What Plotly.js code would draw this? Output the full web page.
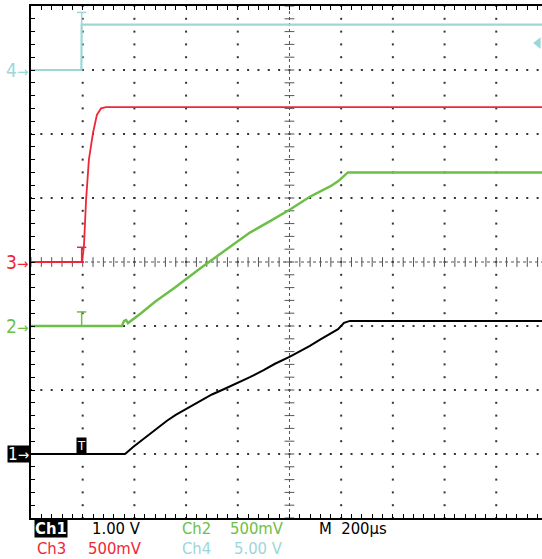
<!DOCTYPE html>
<html>
<head>
<meta charset="utf-8">
<script src="https://cdn.plot.ly/plotly-3.0.1.min.js"></script>
<style>html,body{margin:0;padding:0;background:#fff;}#chart{width:542px;height:559px;}</style>
</head>
<body>
<div id="chart"></div>
<script>
// ---- data (time in microseconds, values in volts) ----
const t4 = [0, 195, 196, 2000];
const v4 = [0, 0, 3.55, 3.55];

const t3 = [0, 197, 201, 205, 213, 224, 240, 255, 271, 290, 2000];
const v3 = [0, 0, 0.06, 0.13, 0.48, 0.80, 1.01, 1.15, 1.20, 1.21, 1.21];

const t2 = [0, 352, 360, 368, 375, 422, 480, 557, 654, 750, 847, 925, 1002, 1079, 1157, 1188, 1203, 1226, 2000];
const v2 = [0, 0, 0.04, 0.047, 0.023, 0.094, 0.19, 0.30, 0.45, 0.59, 0.73, 0.82, 0.91, 1.01, 1.09, 1.13, 1.16, 1.20, 1.20];

const t1 = [0, 364, 395, 430, 460, 495, 526, 560, 596, 654, 700, 750, 800, 847, 900, 944, 1002, 1040, 1079, 1120, 1157, 1188, 1211, 1234, 2000];
const v1 = [0, 0, 0.11, 0.22, 0.31, 0.42, 0.52, 0.61, 0.69, 0.83, 0.93, 1.02, 1.11, 1.20, 1.31, 1.41, 1.52, 1.60, 1.69, 1.79, 1.88, 1.95, 2.05, 2.08, 2.08];

// channel settings: volts/div and ground offset (divisions)
const chNames = ['Ch1', 'Ch2', 'Ch3', 'Ch4'];
const chScale = [1.0, 0.5, 0.5, 5.0];
const chScaleText = ['1.00 V', '500mV', '500mV', '5.00 V'];
const chOffset = [-3, -1, 0, 3];
const chColor = ['#000000', '#6cbf47', '#ee2636', '#9cd7d8'];
const timebaseText = 'M  200\u00b5s';
const triggerTime = 196;
const ch4TriggerLevel = 3.42; // divisions

const FONT = 'DejaVu Sans Condensed, Liberation Sans Narrow, DejaVu Sans, sans-serif';

function toDiv(v, i) { return v.map(x => chOffset[i] + x / chScale[i]); }

const traces = [];

// ---- graticule dots ----
const gx = [], gy = [];
for (let d = -3; d <= 3; d++) {
  if (d === 0) continue;
  for (let t = 0; t <= 2000; t += 40) { gx.push(t); gy.push(d); }
}
for (let t = 200; t <= 1800; t += 200) {
  if (t === 1000) continue;
  for (let d = -4; d <= 4.001; d += 0.2) { gx.push(t); gy.push(d); }
}
traces.push({x: gx, y: gy, mode: 'markers', type: 'scatter', hoverinfo: 'skip',
  marker: {symbol: 'square', size: 2, color: '#333', line: {width: 0}}});

// center cross ticks
const cxT = [], cyT = [];
for (let t = 0; t <= 2000; t += 40) { cxT.push(t); cyT.push(0); }
traces.push({x: cxT, y: cyT, mode: 'markers', type: 'scatter', hoverinfo: 'skip',
  marker: {symbol: 'line-ns', size: 7, line: {width: 1, color: '#555'}}});
const cxV = [], cyV = [];
for (let d = -4; d <= 4.001; d += 0.2) { cxV.push(1000); cyV.push(d); }
traces.push({x: cxV, y: cyV, mode: 'markers', type: 'scatter', hoverinfo: 'skip',
  marker: {symbol: 'line-ew', size: 7, line: {width: 1, color: '#555'}}});

// ---- channel traces ----
const allT = [t1, t2, t3, t4];
const allV = [v1, v2, v3, v4];
const widths = [2, 2.5, 1.8, 2.2];
for (let i = 0; i < 4; i++) {
  traces.push({x: allT[i], y: toDiv(allV[i], i), mode: 'lines', type: 'scatter',
    name: chNames[i], line: {color: chColor[i], width: widths[i]}, hoverinfo: 'skip'});
}

// ch4 trigger level marker
traces.push({x: [1962], y: [ch4TriggerLevel], mode: 'markers', type: 'scatter', hoverinfo: 'skip',
  marker: {symbol: 'triangle-left', size: 10, color: chColor[3]}});

// ---- shapes ----
const shapes = [
  {type: 'line', xref: 'x', yref: 'y', x0: 0, x1: 2000, y0: 0, y1: 0, line: {color: '#555', width: 1, dash: 'dot'}, layer: 'below'},
  {type: 'line', xref: 'x', yref: 'y', x0: 1000, x1: 1000, y0: -4, y1: 4, line: {color: '#555', width: 1, dash: 'dot'}, layer: 'below'}
];
function tMark(i, barY, color) {
  const top = barY, base = chOffset[i] + (i === 3 ? v4[3] / chScale[3] : 0);
  shapes.push({type: 'line', xref: 'x', yref: 'y', x0: triggerTime - 18, x1: triggerTime + 18, y0: top, y1: top, line: {color: color, width: 1.5}});
  shapes.push({type: 'line', xref: 'x', yref: 'y', x0: triggerTime, x1: triggerTime, y0: top, y1: base, line: {color: color, width: 1.5}});
}
tMark(3, 3.9, chColor[3]);
tMark(2, 0.23, chColor[2]);
tMark(1, -0.78, chColor[1]);

// ---- annotations ----
const ann = [];
const markerText = ['1', '2', '3', '4'];
for (let i = 0; i < 4; i++) {
  const a = {xref: 'paper', yref: 'y', x: 0, y: chOffset[i], xanchor: 'right', yanchor: 'middle', xshift: -1,
    showarrow: false, text: markerText[i] + '<span style="font-size:15px">\u2192</span>',
    font: {family: FONT, size: 19, color: chColor[i]}};
  if (i === 0) { a.bgcolor = '#000'; a.font.color = '#fff'; a.borderpad = 0; a.font.size = 17; a.height = 16; }
  ann.push(a);
}
// ch1 trigger box
ann.push({xref: 'x', yref: 'y', x: triggerTime, y: -2.87, showarrow: false, text: 'T', bgcolor: '#000',
  font: {family: FONT, size: 13, color: '#fff'}, borderpad: 0, xanchor: 'center', yanchor: 'middle'});

// bottom status text
const W = 511, H = 512;
function px(x) { return (x - 31) / W; }
function py(y) { return (518 - y) / H; }
function label(text, x, y, color, extra) {
  const a = {xref: 'paper', yref: 'paper', x: px(x), y: py(y), xanchor: 'left', yanchor: 'middle', showarrow: false,
    text: text, height: 17, font: {family: FONT, size: 16.5, color: color}};
  Object.assign(a, extra || {});
  ann.push(a);
}
const row1 = 528, row2 = 548;
label('<b>' + chNames[0] + '</b>', 34, row1, '#fff', {bgcolor: '#000', borderpad: 0});
label(chScaleText[0], 90, row1, '#000');
label(chNames[1], 180, row1, chColor[1]);
label(chScaleText[1], 228, row1, chColor[1]);
label(timebaseText, 317, row1, '#000');
label(chNames[2], 35, row2, chColor[2]);
label(chScaleText[2], 86, row2, chColor[2]);
label(chNames[3], 180, row2, chColor[3]);
label(chScaleText[3], 232, row2, chColor[3]);

const layout = {
  width: 542, height: 559,
  margin: {l: 31, r: 0, t: 6, b: 41},
  paper_bgcolor: '#fff', plot_bgcolor: '#fff',
  showlegend: false,
  xaxis: {range: [0, 1977], showgrid: false, zeroline: false, showticklabels: false,
    ticks: 'inside', tick0: 0, dtick: 40, ticklen: 4, tickcolor: '#000', tickwidth: 1,
    showline: true, linecolor: '#000', linewidth: 2, mirror: 'allticks', fixedrange: true},
  yaxis: {range: [-4, 4], showgrid: false, zeroline: false, showticklabels: false,
    ticks: 'inside', tick0: 0, dtick: 0.2, ticklen: 4, tickcolor: '#000', tickwidth: 1,
    showline: true, linecolor: '#000', linewidth: 2, mirror: false, fixedrange: true},
  shapes: shapes,
  annotations: ann
};

Plotly.newPlot('chart', traces, layout, {displayModeBar: false, staticPlot: true});
</script>
</body>
</html>
